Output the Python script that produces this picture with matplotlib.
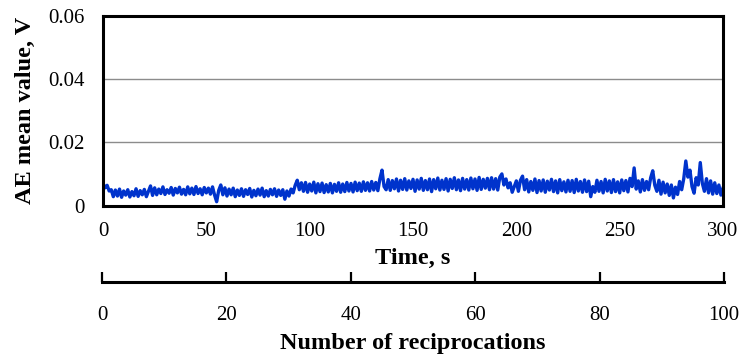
import matplotlib
matplotlib.use("Agg")
import matplotlib.pyplot as plt
import numpy as np

# AE mean value, in mV, one value per second (t = 0..300 s)
ae_mv = [
    7.0, 5.6, 6.4, 4.6, 5.0,
    2.8, 4.9, 3.0, 5.2, 2.6, 4.6, 3.3, 5.0, 2.7, 4.4, 3.1, 5.3, 2.9, 4.7, 3.4, 5.1, 2.8, 4.5,
    6.2, 3.2,
    5.6, 3.4, 5.2, 3.8, 5.9, 3.5, 5.0, 3.9, 5.7, 3.3, 5.4, 4.0, 5.8, 3.6, 5.1,
    3.4, 5.9, 3.7, 5.5, 3.5, 6.0, 3.8, 5.3, 3.4, 5.7, 4.0, 5.5, 3.6, 5.9, 3.3,
    1.2, 4.8, 6.5, 3.4, 5.6,
    3.0, 5.2, 3.4, 5.5, 2.8, 4.9, 3.2, 5.3, 2.9, 5.0, 3.5, 5.4, 2.7, 4.8, 3.1,
    5.2, 3.3, 5.5, 2.8, 4.7, 3.0, 5.1, 3.4, 5.3, 2.9, 4.9, 3.2, 5.0,
    2.0, 4.6, 3.0,
    5.2, 4.0, 6.4,
    8.0, 5.0, 7.2,
    4.5, 7.3, 4.2, 6.8, 4.6, 7.4, 4.0, 6.9, 4.4, 7.1, 4.1, 6.6, 4.3, 7.0, 4.0,
    6.7, 4.5, 7.2, 4.2, 6.8, 4.4, 7.3, 4.6, 7.0, 4.3, 7.4, 4.7, 7.1, 4.5, 7.5,
    4.8, 7.2, 4.6, 7.6, 4.9, 7.3, 4.7,
    8.5, 11.2, 6.0,
    5.0, 8.2, 4.8, 7.9, 5.3, 8.4, 4.6, 8.0, 5.1, 8.5, 4.9, 7.8, 5.4, 8.3, 4.5,
    8.1, 5.2, 8.6, 4.8, 7.9, 5.0, 8.4, 4.4, 8.2, 5.3, 8.7, 4.9, 8.0, 5.1, 8.5,
    4.6, 8.3, 5.4, 8.8, 5.0, 8.1, 4.7, 8.6, 5.2, 8.2, 4.9, 8.7, 5.3, 8.4, 4.8,
    8.9, 5.1, 8.3, 5.5, 8.6, 5.0, 8.8, 5.2, 8.5, 4.9, 9.0,
    10.0, 6.5, 8.4, 5.6, 7.2, 4.2, 6.0,
    7.8, 4.5, 8.0, 9.3, 5.0, 8.2, 4.3, 7.6, 4.8, 8.4, 4.1, 7.9, 4.6, 8.1, 4.2,
    7.7, 4.9, 8.3, 4.4, 7.8, 4.0, 8.2, 4.7, 7.5, 4.3, 8.0, 4.5, 7.9, 4.1, 8.3,
    4.6, 7.6, 4.2, 8.1, 4.4, 7.7,
    2.8, 6.0,
    4.2, 8.0, 4.5, 7.6, 4.0, 8.3, 4.6, 7.8, 4.1, 8.2, 4.4, 7.5, 4.0, 8.1, 4.7, 7.9, 4.3,
    8.6, 6.0, 11.9, 5.2,
    7.8, 4.3, 8.2, 4.8, 7.6, 5.0,
    8.8, 11.0, 6.4,
    4.5, 8.0, 3.6, 7.4, 4.0, 6.8, 3.2, 6.5, 2.4, 5.8, 3.5, 7.6, 5.0,
    8.5, 14.1, 9.0, 11.2,
    6.0, 3.9, 8.8, 6.5, 13.6, 7.0,
    4.5, 8.5, 4.0, 7.8, 3.6, 7.2, 3.8, 6.5, 3.3, 5.5,
]
time_s = np.arange(0, 301)

time_ticks = [0, 50, 100, 150, 200, 250, 300]
recip_ticks = [0, 20, 40, 60, 80, 100]
y_ticks = [0, 0.02, 0.04, 0.06]
y_labels = ["0", "0.02", "0.04", "0.06"]


def main():
    plt.rcParams["font.family"] = ["Liberation Serif", "DejaVu Serif"]
    ae = np.array(ae_mv) / 1000.0

    fig = plt.figure(figsize=(7.43, 3.61), dpi=100)
    ax = fig.add_axes([0.1386, 0.4307, 0.8345, 0.525])

    ax.plot(time_s, ae, color="#0033cc", lw=2.4, solid_joinstyle="round")
    ax.set_xlim(0, 300)
    ax.set_ylim(0, 0.06)
    ax.set_xticks(time_ticks)
    ax.set_yticks(y_ticks)
    ax.set_yticklabels(y_labels)
    for y in [0.02, 0.04]:
        ax.axhline(y, color="#8c8c8c", lw=1.0, zorder=0)
    for s in ax.spines.values():
        s.set_linewidth(2.2)
    ax.tick_params(axis="both", length=0, labelsize=15)
    ax.tick_params(axis="x", pad=12)
    ax.tick_params(axis="y", pad=13)
    ax.set_xlabel("Time, s", fontsize=17.5, fontweight="bold", labelpad=5)
    ax.set_ylabel("AE mean value, V", fontsize=17.5, fontweight="bold", labelpad=9)

    # second scale: number of reciprocations
    ax2 = fig.add_axes([0.1373, 1 - 282 / 361, 0.8371, 0.001])
    ax2.patch.set_visible(False)
    ax2.set_xlim(0, 100)
    ax2.set_xticks(recip_ticks)
    ax2.get_yaxis().set_visible(False)
    for k in ["top", "left", "right"]:
        ax2.spines[k].set_visible(False)
    ax2.spines["bottom"].set_linewidth(2.2)
    ax2.tick_params(axis="x", direction="in", length=7.5, width=1.6, labelsize=15, pad=17)
    ax2.set_xlabel("Number of reciprocations", fontsize=17.5, fontweight="bold", labelpad=6)

    fig.savefig("out.png", dpi=100)


main()
